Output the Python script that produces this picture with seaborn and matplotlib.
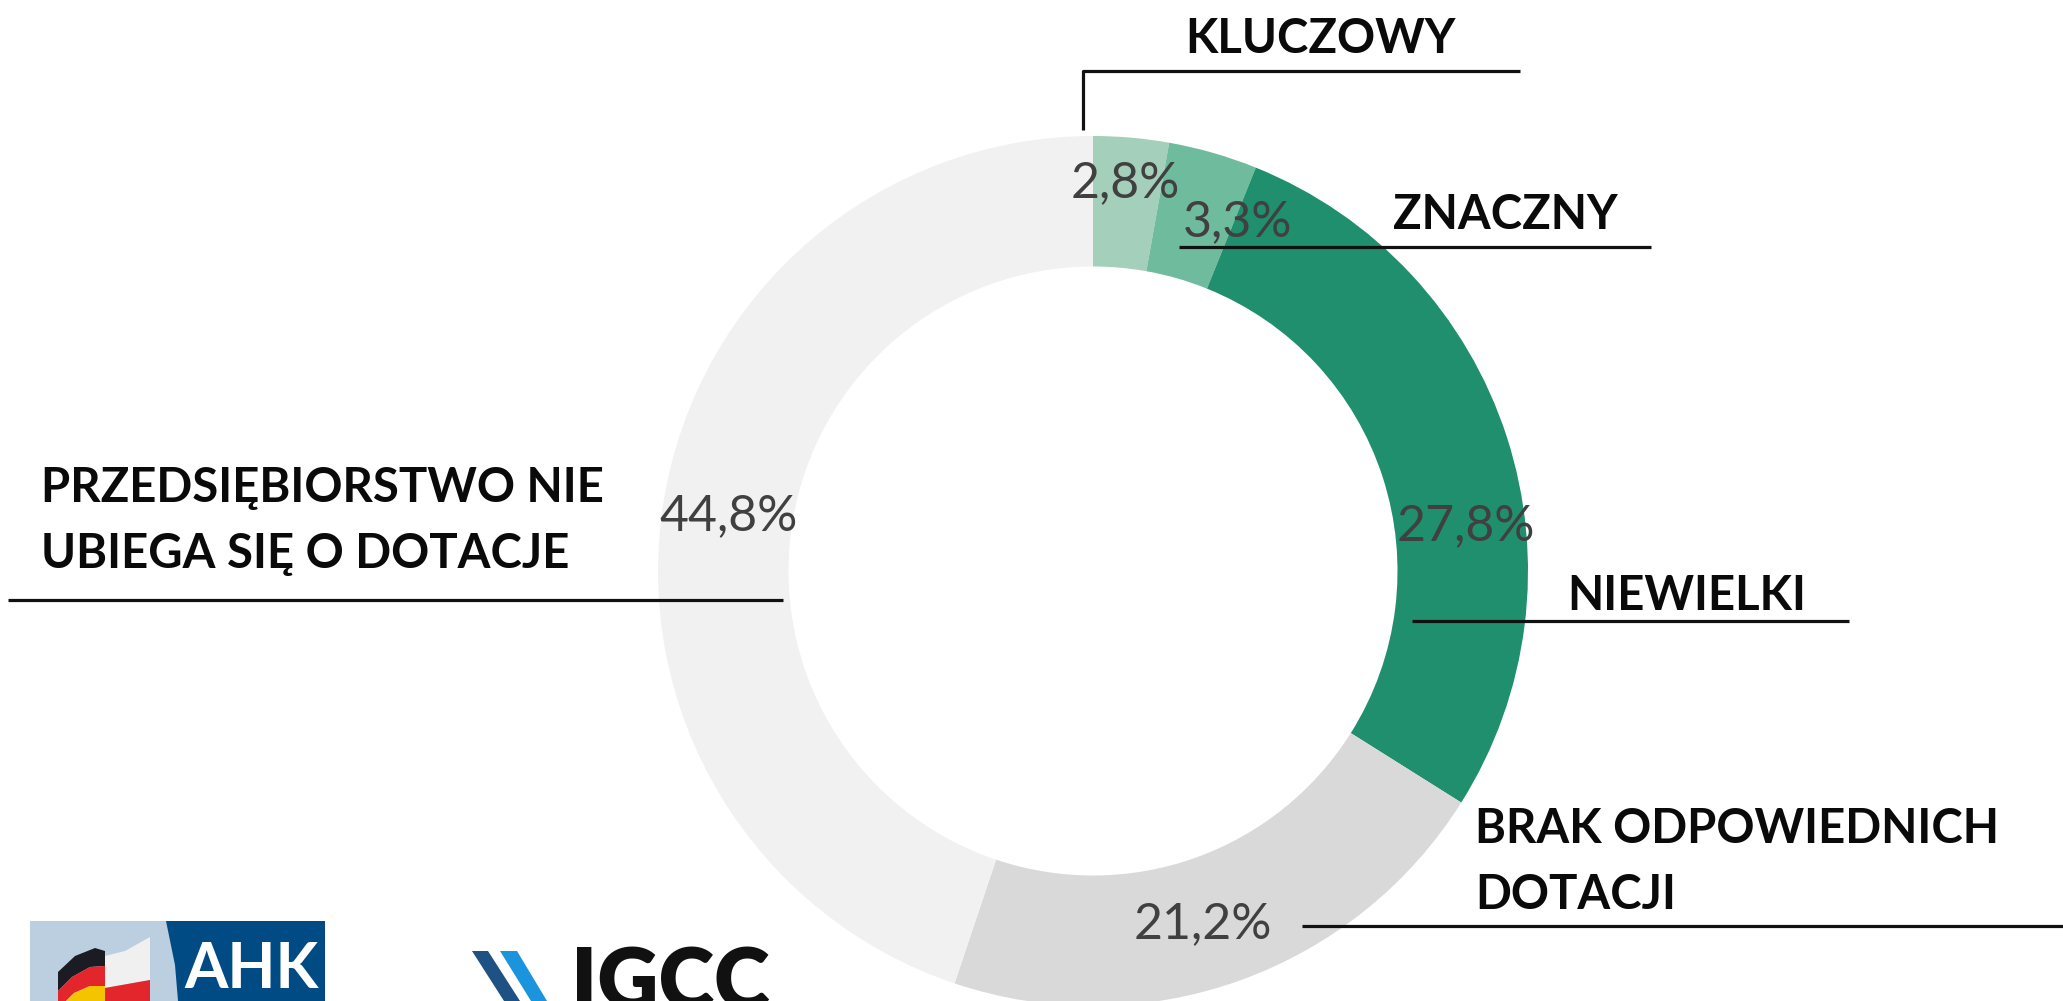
import matplotlib
matplotlib.use("Agg")
import matplotlib.pyplot as plt
from matplotlib.patches import Polygon
import seaborn as sns

# dane z wykresu (udział w %, zgodnie z ruchem wskazówek zegara od góry)
categories = ["KLUCZOWY", "ZNACZNY", "NIEWIELKI",
              "BRAK ODPOWIEDNICH\nDOTACJI",
              "PRZEDSIĘBIORSTWO NIE\nUBIEGA SIĘ O DOTACJE"]
values = [2.8, 3.3, 27.8, 21.2, 44.8]
colors = ["#a4cfba", "#6fbb9e", "#1f8f6d", "#d9d9d9", "#f1f1f1"]

# układ (piksele obrazu, y liczone od góry)
W, H = 2063, 1001
CX, CY, R = 1093, 571, 435
RING = 0.30
pct_pos = [(1071, 197), (1183, 236), (1397, 540), (1134, 938), (659, 530)]
label_pos = [(1185, 53), (1393, 229), (1567, 610), (1475, 843), (41, 502)]
LINE_STEP = 66
leaders = [([1083, 1083, 1520], [130, 71, 71]),
           ([1179, 1651], [247, 247]),
           ([1412, 1849], [621, 621]),
           ([1302, 2063], [926, 926]),
           ([8, 783], [600, 600])]

sns.set_theme(style="white")
plt.rcParams['font.family'] = ['Lato', 'DejaVu Sans']

fig = plt.figure(figsize=(W / 100, H / 100), dpi=100)
ax = fig.add_axes([0, 0, 1, 1])

# oś y odwrócona -> startangle=-90 i counterclock=True daje start u góry i ruch zgodny z zegarem
wedges, _ = ax.pie(values, colors=colors, startangle=-90, counterclock=True,
                   radius=R, center=(CX, CY),
                   wedgeprops=dict(width=R * RING, linewidth=0))

ax.set_xlim(0, W)
ax.set_ylim(H, 0)
ax.set_aspect("equal")
ax.axis("off")

for (xs, ys) in leaders:
    ax.plot(xs, ys, color="#111111", lw=2.3, solid_capstyle="butt", zorder=3)

for v, (x, y) in zip(values, pct_pos):
    txt = "{:.1f}".format(v).replace(".", ",") + "%"
    ax.text(x, y, txt, ha="left", va="baseline", fontsize=36,
            fontweight="normal", color="#404040", zorder=4)

for cat, (x, y) in zip(categories, label_pos):
    for i, line in enumerate(cat.split("\n")):
        ax.text(x, y + i * LINE_STEP, line, ha="left", va="baseline",
                fontsize=34, fontweight="bold", color="#0a0a0a", zorder=4)

# logo AHK
ax.add_patch(Polygon([(30, 921), (175, 921), (178, 1001), (30, 1001)], closed=True,
                     color="#bccfe0", lw=0, zorder=5))
ax.add_patch(Polygon([(166, 921), (325, 921), (325, 1001), (178, 1001), (175, 965)],
                     closed=True, color="#004b84", lw=0, zorder=5))
ax.add_patch(Polygon([(58, 972), (75, 956), (95, 948), (105, 951), (105, 966),
                      (90, 967), (72, 977), (58, 991)], closed=True,
                     color="#1b1b24", lw=0, zorder=6))
ax.add_patch(Polygon([(58, 991), (72, 977), (90, 967), (105, 966), (105, 986),
                      (90, 986), (74, 993), (66, 1001), (58, 1001)], closed=True,
                     color="#e3262b", lw=0, zorder=6))
ax.add_patch(Polygon([(66, 1001), (74, 993), (90, 986), (105, 986), (105, 1001)],
                     closed=True, color="#f5c400", lw=0, zorder=6))
ax.add_patch(Polygon([(105, 956), (125, 951), (150, 937), (150, 980), (105, 988)],
                     closed=True, color="#f0f0f0", lw=0, zorder=6))
ax.add_patch(Polygon([(105, 988), (150, 980), (150, 1001), (105, 1001)],
                     closed=True, color="#e3262b", lw=0, zorder=6))
ax.text(184, 988, "AHK", ha="left", va="baseline", fontsize=45,
        fontweight="bold", color="white", zorder=7)

# logo IGCC (w oryginale przycięte dolną krawędzią)
ax.add_patch(Polygon([(472, 951), (488, 951), (520, 1001), (504, 1001)], closed=True,
                     color="#1e5284", lw=0, zorder=5))
ax.add_patch(Polygon([(500, 951), (517, 951), (547, 1001), (531, 1001)], closed=True,
                     color="#1a94dc", lw=0, zorder=5))
ax.text(571, 1010, "IGCC", ha="left", va="baseline", fontsize=61,
        fontweight="heavy", color="#111111", zorder=5)

fig.savefig("out.png", dpi=100)
